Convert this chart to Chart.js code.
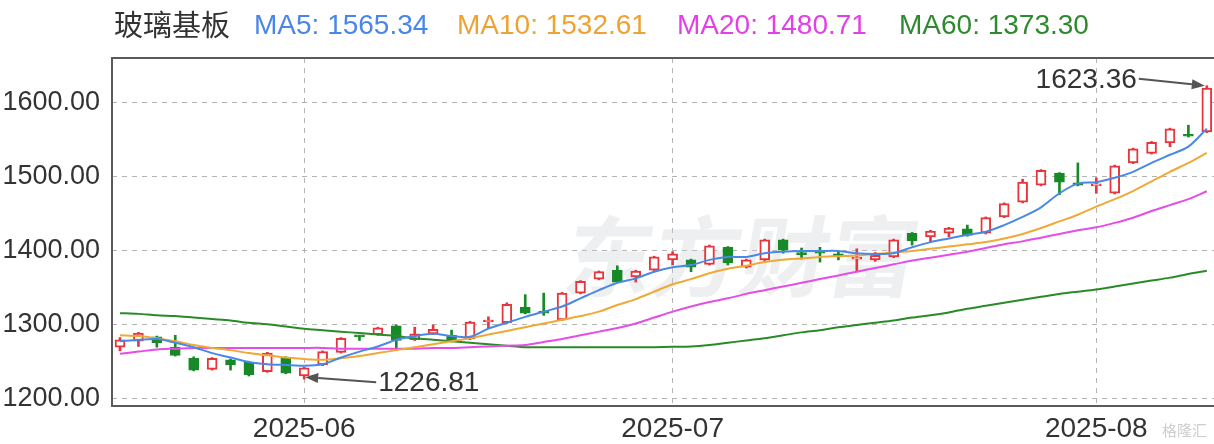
<!DOCTYPE html>
<html><head><meta charset="utf-8">
<script src="https://cdn.jsdelivr.net/npm/chart.js@4.4.0/dist/chart.umd.min.js"></script>
<style>html,body{margin:0;padding:0;background:#fff;}#wrap{width:1214px;height:444px;}</style>
</head><body><div id="wrap"><canvas id="c" width="1214" height="444"></canvas></div>
<script>
const dates = ['2025-05-19','2025-05-20','2025-05-21','2025-05-22','2025-05-23','2025-05-26','2025-05-27','2025-05-28','2025-05-29','2025-05-30',
'2025-06-03','2025-06-04','2025-06-05','2025-06-06','2025-06-09','2025-06-10','2025-06-11','2025-06-12','2025-06-13','2025-06-16',
'2025-06-17','2025-06-18','2025-06-19','2025-06-20','2025-06-23','2025-06-24','2025-06-25','2025-06-26','2025-06-27','2025-06-30',
'2025-07-01','2025-07-02','2025-07-03','2025-07-04','2025-07-07','2025-07-08','2025-07-09','2025-07-10','2025-07-11','2025-07-14',
'2025-07-15','2025-07-16','2025-07-17','2025-07-18','2025-07-21','2025-07-22','2025-07-23','2025-07-24','2025-07-25','2025-07-28',
'2025-07-29','2025-07-30','2025-07-31','2025-08-01','2025-08-04','2025-08-05','2025-08-06','2025-08-07','2025-08-08','2025-08-11'];
const openP  = [1270,1278,1284,1270,1255,1240,1253,1250,1237,1255,1231,1246,1263,1285,1287,1299,1280,1288,1286,1281,
1304,1303,1324,1318,1307,1343,1362,1374,1365,1374,1388,1388,1382,1405,1378,1388,1415,1397,1399,1396,
1389,1388,1392,1424,1419,1424,1430,1424,1446,1466,1489,1505,1492,1488,1478,1519,1532,1546,1557,1561];
const closeP = [1280,1289,1276,1259,1239,1255,1246,1233,1262,1235,1242,1264,1282,1284,1296,1279,1288,1294,1278,1304,
1305,1328,1316,1316,1343,1359,1372,1358,1373,1392,1396,1378,1407,1384,1388,1415,1401,1395,1397,1392,
1391,1394,1415,1414,1427,1431,1421,1445,1464,1493,1509,1493,1489,1490,1515,1538,1547,1565,1555,1620];
const highP  = [1283,1290,1285,1286,1257,1256,1254,1251,1263,1257,1243,1265,1283,1286,1297,1300,1297,1300,1293,1305,
1311,1330,1341,1343,1344,1360,1373,1380,1374,1393,1399,1389,1408,1406,1389,1416,1416,1404,1405,1399,
1403,1398,1416,1425,1428,1432,1435,1446,1465,1497,1510,1506,1519,1499,1516,1539,1548,1566,1570,1623.36];
const lowP   = [1265,1271,1270,1258,1238,1239,1239,1231,1236,1234,1226.81,1245,1262,1279,1286,1266,1279,1287,1277,1280,
1296,1302,1315,1313,1306,1342,1361,1357,1358,1373,1381,1372,1381,1381,1377,1387,1397,1389,1385,1388,
1372,1386,1391,1408,1412,1419,1420,1423,1445,1465,1488,1476,1488,1478,1477,1518,1531,1541,1554,1560];
const ma5  = [1278,1280,1281,1276,1270,1262,1256,1250,1247,1246,1245,1247,1256,1264,1271,1280,1285,1288,1285,1284,
1295,1303,1311,1318,1325,1336,1347,1357,1363,1372,1378,1381,1388,1392,1392,1397,1399,1400,1400,1400,
1397,1396,1397,1405,1412,1417,1422,1426,1435,1446,1459,1478,1491,1493,1499,1507,1519,1530,1541,1565.34];
const ma10 = [1286,1285,1282,1278,1273,1269,1266,1262,1259,1256,1254,1253,1255,1258,1262,1266,1270,1274,1278,1282,
1287,1292,1297,1302,1307,1312,1318,1327,1335,1345,1355,1362,1370,1376,1380,1385,1388,1390,1392,1393,
1394,1396,1398,1400,1403,1406,1409,1412,1417,1423,1431,1440,1449,1460,1470,1481,1494,1507,1519,1532.61];
const ma20 = [1261,1264,1267,1268,1269,1269,1269,1269,1269,1269,1269,1269,1268,1268,1268,1268,1268,1269,1269,1270,
1271,1272,1273,1277,1281,1286,1291,1296,1302,1310,1318,1325,1331,1336,1342,1347,1352,1357,1362,1367,
1372,1377,1382,1387,1391,1395,1399,1404,1409,1413,1418,1423,1428,1432,1438,1445,1454,1462,1470,1480.71];
const ma60 = [1316,1315,1313,1312,1310,1308,1306,1303,1301,1298,1295,1293,1291,1289,1287,1285,1282,1280,1278,1276,
1274,1272,1270,1270,1270,1270,1270,1270,1270,1270,1270.5,1271,1273,1276,1279,1282,1286,1290,1293,1297,
1300,1303,1306,1310,1313,1317,1322,1326,1330,1334,1338,1342,1345,1348,1352,1356,1360,1364,1369,1373.3];
const monthLabels = ['2025-06','2025-07','2025-08'];
const yTicks = [1200,1300,1400,1500,1600];
const legendItems = [
  {text:'MA5: 1565.34', color:'#4a86e8'},
  {text:'MA10: 1532.61', color:'#eea232'},
  {text:'MA20: 1480.71', color:'#e33fe6'},
  {text:'MA60: 1373.30', color:'#2f8a2f'}
];
const titleText = '玻璃基板';

const RED = '#e8353b', GREEN = '#178a27';
const monthIdx = monthLabels.map(m => dates.findIndex(d => d.startsWith(m)));
const up = closeP.map((c,i) => c >= openP[i]);
const pts = arr => arr.map((v,i) => ({x:i, y:v}));
const FONT = "'Liberation Sans', Arial, sans-serif";

const decor = {
  id:'decor',
  beforeDatasetsDraw(chart){
    const {ctx} = chart;
    ctx.save();
    ctx.font = "bold 88px 'Noto Sans CJK SC'";
    ctx.fillStyle = 'rgba(200,204,212,0.32)';
    ctx.textBaseline = 'alphabetic';
    ctx.setTransform(1,0,-0.18,1,0,0);
    ctx.fillText('东方财富', 560 + 0.18*290, 290);
    ctx.setTransform(1,0,0,1,0,0);
    ctx.restore();
  },
  afterDatasetsDraw(chart){
    const {ctx, chartArea:a, scales:{x,y}} = chart;
    ctx.save();
    ctx.setLineDash([]);
    ctx.strokeStyle = '#5a5a5a'; ctx.lineWidth = 2;
    ctx.beginPath();
    ctx.moveTo(a.right, a.top); ctx.lineTo(a.left, a.top); ctx.lineTo(a.left, a.bottom); ctx.lineTo(a.right, a.bottom);
    ctx.stroke();
    const arrow = (x1,y1,x2,y2) => {
      ctx.strokeStyle = '#555'; ctx.fillStyle = '#555'; ctx.lineWidth = 2;
      const ang = Math.atan2(y2-y1, x2-x1), L = 13, W = 5;
      const bx = x2 - L*Math.cos(ang), by = y2 - L*Math.sin(ang);
      ctx.beginPath(); ctx.moveTo(x1,y1); ctx.lineTo(bx,by); ctx.stroke();
      ctx.beginPath(); ctx.moveTo(x2,y2);
      ctx.lineTo(bx + W*Math.sin(ang), by - W*Math.cos(ang));
      ctx.lineTo(bx - W*Math.sin(ang), by + W*Math.cos(ang));
      ctx.closePath(); ctx.fill();
    };
    ctx.font = '28px ' + FONT; ctx.textBaseline = 'middle';
    const iH = highP.indexOf(Math.max(...highP));
    const hx = x.getPixelForValue(iH), hy = y.getPixelForValue(highP[iH]);
    arrow(hx-68, hy-7, hx-2, hy);
    ctx.fillStyle = '#333'; ctx.textAlign = 'right';
    ctx.fillText(highP[iH].toFixed(2), hx-70, hy-5);
    const iL = lowP.indexOf(Math.min(...lowP));
    const lx = x.getPixelForValue(iL), ly = y.getPixelForValue(lowP[iL]);
    arrow(lx+72, ly+3, lx+1, ly-2);
    ctx.fillStyle = '#333'; ctx.textAlign = 'left';
    ctx.fillText(lowP[iL].toFixed(2), lx+74, ly+4);
    ctx.restore();
  },
  afterDraw(chart){
    const {ctx} = chart;
    ctx.save();
    ctx.textBaseline = 'middle'; ctx.textAlign = 'left';
    ctx.font = "29px 'Noto Sans CJK SC'"; ctx.fillStyle = '#333';
    ctx.fillText(titleText, 114, 25);
    const xs = [254, 457, 677, 899];
    ctx.font = '28px ' + FONT;
    legendItems.forEach((it,i) => { ctx.fillStyle = it.color; ctx.fillText(it.text, xs[i], 26); });
    ctx.font = "15px 'Noto Sans CJK SC'"; ctx.fillStyle = 'rgba(170,170,170,0.6)';
    ctx.fillText('格隆汇', 1162, 430);
    ctx.restore();
  }
};

const gridOpts = {color:'#b4b4b4', lineWidth:1, drawTicks:false, borderDash:[5,5], tickBorderDash:[5,5]};

new Chart(document.getElementById('c'), {
  type: 'bar',
  data: {
    datasets: [
      {type:'line', label:'MA5', data: pts(ma5), borderColor:'#4a88e8', borderWidth:2, pointRadius:0, tension:0.3, order:0},
      {type:'line', label:'MA10', data: pts(ma10), borderColor:'#f0a935', borderWidth:2, pointRadius:0, tension:0.3, order:1},
      {type:'line', label:'MA20', data: pts(ma20), borderColor:'#e54ce8', borderWidth:2, pointRadius:0, tension:0.3, order:1},
      {type:'line', label:'MA60', data: pts(ma60), borderColor:'#2a8a2a', borderWidth:2, pointRadius:0, tension:0.3, order:1},
      {label:'body', data: dates.map((d,i)=>({x:i, y:[openP[i], closeP[i]]})),
        backgroundColor: up.map(u => u ? '#ffffff' : GREEN),
        borderColor: up.map(u => u ? RED : GREEN),
        borderWidth: 2, borderSkipped:false, barThickness:10, minBarLength:2, grouped:false, order:2},
      {label:'wick', data: dates.map((d,i)=>({x:i, y:[lowP[i], highP[i]]})),
        backgroundColor: up.map(u => u ? RED : GREEN),
        borderWidth:0, barThickness:2, grouped:false, order:3}
    ]
  },
  options: {
    responsive:false, animation:false, devicePixelRatio:1,
    layout:{padding:{top:58, right:0, bottom:0, left:0}},
    plugins:{legend:{display:false}, tooltip:{enabled:false}},
    scales:{
      x:{type:'linear', min:-0.434, max:59.39, offset:false,
        afterBuildTicks: s => { s.ticks = monthIdx.map(v => ({value:v})); },
        afterFit: s => { s.height = 38; },
        grid:Object.assign({offset:false}, gridOpts),
        border:{display:false, dash:[5,5]},
        ticks:{padding:6, maxRotation:0, autoSkip:false, color:'#333', font:{size:28, family:FONT},
          callback: v => { const k = monthIdx.indexOf(v); return k >= 0 ? monthLabels[k] : ''; }}
      },
      y:{type:'linear', min:1190.5, max:1660.8,
        afterBuildTicks: s => { s.ticks = yTicks.map(v => ({value:v})); },
        afterFit: s => { s.width = 112; },
        grid:Object.assign({}, gridOpts),
        border:{display:false, dash:[5,5]},
        ticks:{padding:12, color:'#333', font:{size:27, family:FONT}, callback: v => Number(v).toFixed(2)}
      }
    }
  },
  plugins:[decor]
});
</script>
</body></html>
